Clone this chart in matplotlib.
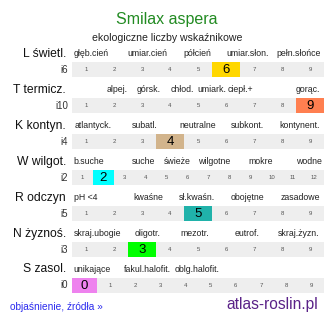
import matplotlib
matplotlib.use("Agg")
import matplotlib.pyplot as plt

plt.rcParams['font.family'] = ['Liberation Sans', 'DejaVu Sans']

# dane
gatunek = "Smilax aspera"
podtytul = "ekologiczne liczby wskaźnikowe"

nazwy = ["L świetl.", "T termicz.", "K kontyn.", "W wilgot.", "R odczyn", "N żyznoś.", "S zasol."]
indeksy = ["i6", "i10", "i4", "i2", "i5", "i3", "i0"]
wartosci = [6, 9, 4, 2, 5, 3, 0]
skale_od = [1, 1, 1, 1, 1, 1, 0]
skale_do = [9, 9, 9, 12, 9, 9, 9]
kolory = ["#ffd700", "#ff7f50", "#d2b48c", "#00ffff", "#20b2aa", "#00ff00", "#ee82ee"]

opisy = [
    ["głęb.cień", "umiar.cień", "półcień", "umiar.słon.", "pełn.słońce"],
    ["alpej.", "górsk.", "chłod.", "umiark.", "ciepł.+", "gorąc."],
    ["atlantyck.", "subatl.", "neutralne", "subkont.", "kontynent."],
    ["b.suche", "suche", "świeże", "wilgotne", "mokre", "wodne"],
    ["pH <4", "kwaśne", "sł.kwaśn.", "obojętne", "zasadowe"],
    ["skraj.ubogie", "oligotr.", "mezotr.", "eutrof.", "skraj.żyzn."],
    ["unikające", "fakul.halofit.", "oblg.halofit."],
]
opisy_x = [
    [91.5, 147.5, 197.5, 247.5, 298.5],
    [117.5, 149, 182, 212, 240, 307.5],
    [93, 145, 198, 247, 300],
    [89, 144, 177, 214, 261, 309],
    [85.5, 148, 197, 247.5, 300],
    [98, 148, 195, 247, 299],
    [92.5, 147.5, 197.5],
]

W, H = 334, 322
fig = plt.figure(figsize=(W / 100, H / 100), dpi=100)
ax = fig.add_axes([0, 0, 1, 1])
ax.set_xlim(0, W)
ax.set_ylim(H, 0)
ax.axis('off')

ax.text(167, 19, gatunek, ha='center', va='center', fontsize=11.5, color='#228b22')
ax.text(167, 38, podtytul, ha='center', va='center', fontsize=7.6, color='#222222')

x0, szer = 72, 252
for i, nazwa in enumerate(nazwy):
    yb = 69.5 + 36 * i
    yl = yb - 16
    ax.text(66, yl, nazwa, ha='right', va='center', fontsize=8.7, color='#111111')
    ax.text(68, yb, indeksy[i], ha='right', va='center', fontsize=7, color='#333333')
    for t, xc in zip(opisy[i], opisy_x[i]):
        ax.text(xc, yl, t, ha='center', va='center', fontsize=6.3, color='#222222')
    n = skale_do[i] - skale_od[i] + 1
    w = szer / n
    liczby = list(range(skale_od[i], skale_do[i] + 1))
    xs = [x0 + w * k for k in range(n)]
    cols = [kolory[i] if v == wartosci[i] else '#eeeeee' for v in liczby]
    ax.bar(xs, 15, width=w, bottom=yb - 7.5, align='edge', color=cols, linewidth=0)
    for xx, v in zip(xs, liczby):
        if v == wartosci[i]:
            ax.text(xx + w / 2, yb + 0.5, str(v), ha='center', va='center', fontsize=9.5, color='#000000')
        else:
            ax.text(xx + w / 2, yb, str(v), ha='center', va='center', fontsize=4.3, color='#555555')

ax.text(10, 307, "objaśnienie, źródła »", ha='left', va='center', fontsize=7.3, color='#2b2bee')
ax.text(318, 304, "atlas-roslin.pl", ha='right', va='center', fontsize=11.2, color='#5a2288')

fig.savefig("out.png", dpi=100)
